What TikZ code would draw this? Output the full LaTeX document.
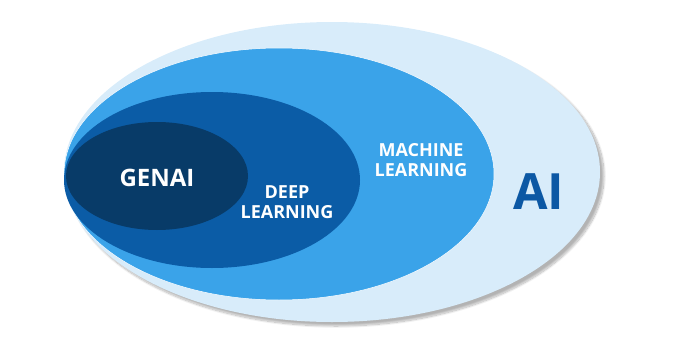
\documentclass[tikz,border=0pt]{standalone}
\usepackage{fontspec}
\setmainfont{Open Sans}
\usetikzlibrary{shapes.geometric,shadows.blur}

\definecolor{aiFill}{RGB}{216,236,250}
\definecolor{mlFill}{RGB}{58,163,233}
\definecolor{dlFill}{RGB}{11,92,166}
\definecolor{genFill}{RGB}{8,59,104}
\definecolor{aiText}{RGB}{12,88,164}

\begin{document}
\begin{tikzpicture}[
  x=1pt, y=-1pt,
  set/.style={ellipse, inner sep=0pt, draw=none},
  lbl/.style={align=center, text=white},
]
\useasboundingbox (0,0) rectangle (686,343);

% ---- nested sets, outermost first ----
\node[set, fill=aiFill, minimum width=536, minimum height=300,
      blur shadow={shadow xshift=4pt, shadow yshift=-4pt, shadow opacity=30, shadow blur steps=14}]
      (ai) at (332,172) {};
\node[set, fill=mlFill, draw=white, line width=0.5pt, minimum width=430, minimum height=252] (ml) at (279,174) {};
\node[set, fill=dlFill, minimum width=296, minimum height=176] (dl) at (212,180) {};
\node[set, fill=genFill, minimum width=182, minimum height=108] (gen) at (157,176) {};

% ---- labels ----
\node[lbl, font=\fontsize{24}{28}\selectfont\bfseries] (genT) at (157,178) {GENAI};
\node[lbl, font=\fontsize{18}{20}\selectfont\bfseries] (dlT) at (287,202) {DEEP\\LEARNING};
\node[lbl, font=\fontsize{18}{20}\selectfont\bfseries] (mlT) at (421,160) {MACHINE\\LEARNING};
\node[lbl, text=aiText, font=\fontsize{50}{56}\selectfont\bfseries] (aiT) at (539,192) {AI};
\end{tikzpicture}
\end{document}
